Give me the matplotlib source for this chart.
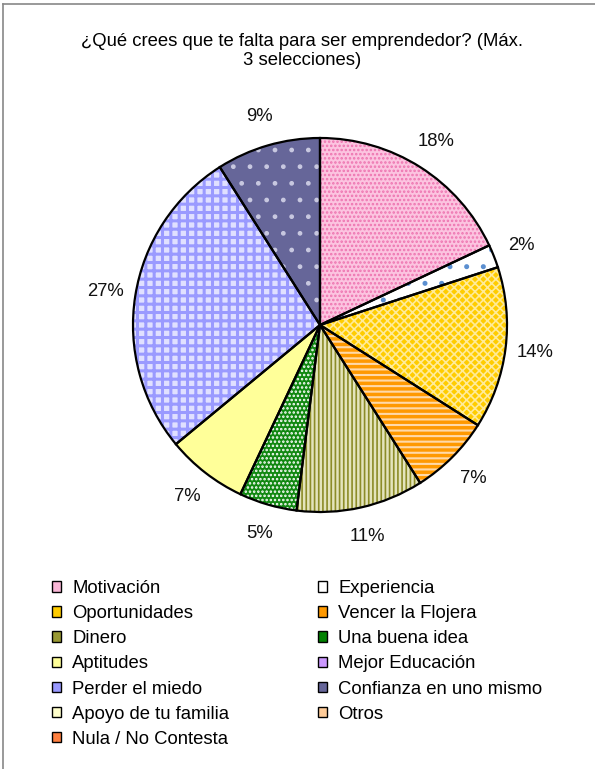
import matplotlib
matplotlib.use("Agg")
import matplotlib.pyplot as plt
from matplotlib.patches import Patch
from matplotlib.lines import Line2D

plt.rcParams['font.family'] = ['Liberation Sans', 'DejaVu Sans']
plt.rcParams['hatch.linewidth'] = 1.2

title = "¿Qué crees que te falta para ser emprendedor? (Máx.\n3 selecciones)"

categories = ["Motivación", "Experiencia", "Oportunidades", "Vencer la Flojera",
              "Dinero", "Una buena idea", "Aptitudes", "Mejor Educación",
              "Perder el miedo", "Confianza en uno mismo", "Apoyo de tu familia",
              "Otros", "Nula / No Contesta"]
values = [18, 2, 14, 7, 11, 5, 7, 0, 27, 9, 0, 0, 0]

face_colors = ["#FCC4E0", "#FFFFFF", "#FFCC00", "#FF9900", "#E4E4BC", "#118811",
               "#FFFF99", "#CC99FF", "#E0E0FF", "#666699", "#FFFFCC", "#FFCC99", "#FF8040"]
hatch_colors = ["#EE74B0", "#5B8FD0", "#FFEB99", "#FFD9A8", "#8C8C28", "#FFFFFF",
                "#FFFF99", "#CC99FF", "#9A9AFF", "#C8C8E0", "#FFFFCC", "#FFCC99", "#FF8040"]
hatches = ["....", ".", "xxxx", "---", "||||", "....", None, None, "++", ".", None, None, None]
hatch_widths = [1.2, 1.2, 1.2, 1.5, 1.2, 1.2, 1.0, 1.0, 2.2, 1.0, 1.0, 1.0, 1.0]
legend_colors = ["#F9B6D6", "#FFFFFF", "#FFCC00", "#FF9900", "#999933", "#008000",
                 "#FFFF99", "#CC99FF", "#9999FF", "#666699", "#FFFFCC", "#FFCC99", "#FF8040"]

W, H = 595, 769
fig = plt.figure(figsize=(W / 100, H / 100), dpi=100)

# frame lines (top and left visible)
fig.add_artist(Line2D([3 / W, 1.0], [1 - 4 / H, 1 - 4 / H], color="#888888", lw=1.2))
fig.add_artist(Line2D([3 / W, 3 / W], [1 - 4 / H, 0.0], color="#888888", lw=1.2))

fig.text(0.507, 1 - 51 / H, title, ha="center", va="center", fontsize=13.3,
         multialignment="center", linespacing=1.1)

cx, cy, r = 320, 325, 187
ax = fig.add_axes([(cx - r) / W, 1 - (cy + r) / H, 2 * r / W, 2 * r / H])

idx = [i for i, v in enumerate(values) if v > 0]
vals = [values[i] for i in idx]

wedges, _ = ax.pie(vals, startangle=90, counterclock=False, radius=1,
                   colors=[face_colors[i] for i in idx],
                   wedgeprops=dict(linewidth=0))
for w, i in zip(wedges, idx):
    w.set_edgecolor(hatch_colors[i])
    w.set_linewidth(0)
    if hatches[i]:
        w.set_hatch(hatches[i])
        if hasattr(w, "set_hatch_linewidth"):
            w.set_hatch_linewidth(hatch_widths[i])

wedges2, texts, autotexts = ax.pie(vals, startangle=90, counterclock=False, radius=1,
                                   autopct="%1.0f%%", pctdistance=1.16,
                                   wedgeprops=dict(fill=False, edgecolor="black", linewidth=1.6),
                                   textprops=dict(fontsize=13.3, color="#111111"))
ax.set_xlim(-1, 1)
ax.set_ylim(-1, 1)
ax.set_aspect("equal")
ax.axis("off")

handles = [Patch(facecolor=legend_colors[i], edgecolor="black", linewidth=1.0,
                 label=categories[i]) for i in range(len(categories))]
left = [handles[i] for i in range(0, len(handles), 2)]
right = [handles[i] for i in range(1, len(handles), 2)]

common = dict(frameon=False, fontsize=13.3, handlelength=0.5, handleheight=0.5,
              handletextpad=0.6, labelspacing=0.44, borderpad=0, borderaxespad=0,
              loc="upper left")
l1 = fig.legend(handles=left, bbox_to_anchor=(52 / W, 1 - 580 / H), **common)
l2 = fig.legend(handles=right, bbox_to_anchor=(318 / W, 1 - 580 / H), **common)

fig.savefig("out.png", dpi=100)
